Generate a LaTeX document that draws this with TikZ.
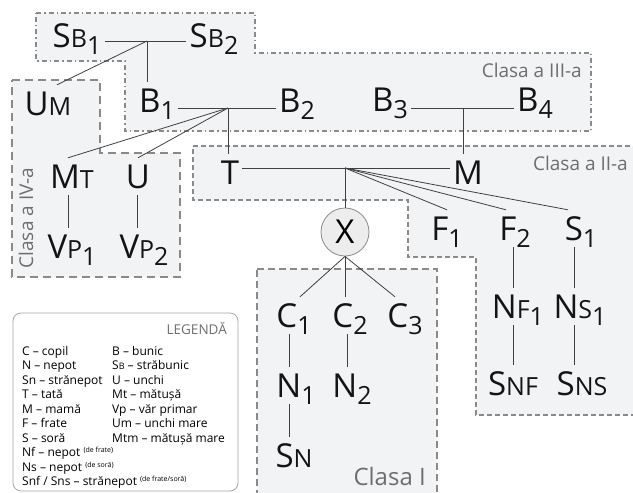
\documentclass[tikz,border=0pt]{standalone}
\usepackage{fontspec}
\setmainfont{Open Sans}

\definecolor{boxfill}{HTML}{F2F3F5}
\definecolor{boxline}{HTML}{8A8A8A}
\definecolor{labelgray}{HTML}{6E6E6E}

\newcommand{\smallcap}[1]{{\fontsize{25}{25}\selectfont #1}}
\newcommand{\nr}[1]{\raisebox{-7pt}{\fontsize{25}{25}\selectfont #1}}
\newcommand{\legnote}[1]{\raisebox{4pt}{\fontsize{7}{8}\selectfont #1}}

\tikzset{
  pers/.style={anchor=base, inner sep=3pt, text height=27pt, text depth=4pt,
    text=black!92, font=\fontsize{33}{36}\selectfont},
  klasse/.style={draw=boxline, fill=boxfill, line width=1.4pt},
  klasslabel/.style={text=labelgray, inner sep=0pt, font=\fontsize{19}{22}\selectfont},
  link/.style={draw=black!75, line width=0.8pt},
  legtext/.style={anchor=base west, inner sep=0pt, font=\fontsize{12}{14}\selectfont},
}

\begin{document}
\begin{tikzpicture}[x=1pt, y=-1pt]
    \useasboundingbox (0,0) rectangle (633,493);

    % the classes
    \draw[klasse, dash pattern=on 5pt off 3pt on 1.5pt off 3pt]
        (36,13) -- (255,13) -- (255,53) -- (591,53) -- (591,131) -- (125,131) -- (125,61) -- (36,61) -- cycle;
    \draw[klasse, dash pattern=on 8pt off 5pt]
        (12,80) -- (100,80) -- (100,153) -- (180,153) -- (180,277) -- (12,277) -- cycle;
    \draw[klasse, dash pattern=on 5pt off 3pt]
        (193,146) -- (640,146) -- (640,415) -- (476,415) -- (476,257) -- (408,257) -- (408,200) -- (193,200) -- cycle;
    \draw[klasse, dash pattern=on 7pt off 4pt]
        (257,269) -- (437,269) -- (437,500) -- (257,500) -- cycle;
    \draw[draw=black!35, line width=0.8pt, rounded corners=8pt, fill=white] (13,313) rectangle (238,491);

    \node[klasslabel, anchor=base east] (cl3) at (582,77) {Clasa a III-a};
    \node[klasslabel, anchor=base east] (cl2) at (628,170) {Clasa a II-a};
    \node[klasslabel, rotate=90, anchor=base] (cl4) at (33,218) {Clasa a IV-a};
    \node[klasslabel, anchor=base east, font=\fontsize{24}{26}\selectfont] (cl1) at (426,485) {Clasa I};

    % persons
    \node[pers] (sb1) at (77,47) {S\smallcap{B}\nr{1}};
    \node[pers] (sb2) at (214,47) {S\smallcap{B}\nr{2}};
    \node[pers] (um) at (48,115) {U\smallcap{M}};
    \node[pers] (b1) at (157,112) {B\nr{1}};
    \node[pers] (b2) at (297,112) {B\nr{2}};
    \node[pers] (b3) at (390,111) {B\nr{3}};
    \node[pers] (b4) at (535,111) {B\nr{4}};
    \node[pers] (mt) at (72,188) {M\smallcap{T}};
    \node[pers] (u) at (138,188) {U};
    \node[pers] (vp1) at (72,258) {V\smallcap{P}\nr{1}};
    \node[pers] (vp2) at (144,258) {V\smallcap{P}\nr{2}};
    \node[pers] (t) at (230,184) {T};
    \node[pers] (m) at (468,184) {M};
    \node[circle, draw=boxline, fill=black!7, line width=0.8pt, minimum size=48pt, inner sep=0pt,
        font=\fontsize{33}{36}\selectfont] (x) at (345,232) {X};
    \node[pers] (f1) at (447,240) {F\nr{1}};
    \node[pers] (f2) at (515,240) {F\nr{2}};
    \node[pers] (s1) at (581,240) {S\nr{1}};
    \node[pers] (nf1) at (518,318) {N\smallcap{F}\nr{1}};
    \node[pers] (ns1) at (580,318) {N\smallcap{S}\nr{1}};
    \node[pers] (snf) at (513,395) {S\smallcap{NF}};
    \node[pers] (sns) at (582,395) {S\smallcap{NS}};
    \node[pers] (c1) at (294,327) {C\nr{1}};
    \node[pers] (c2) at (350,327) {C\nr{2}};
    \node[pers] (c3) at (405,327) {C\nr{3}};
    \node[pers] (n1) at (296,397) {N\nr{1}};
    \node[pers] (n2) at (352,397) {N\nr{2}};
    \node[pers] (sn) at (294,467) {S\smallcap{N}};

    % junctions and columns of the links
    \coordinate (j1) at (147,41);
    \coordinate (j2) at (228,108);
    \coordinate (j3) at (463,108);
    \coordinate (j4) at (345,168);
    \coordinate (kmt) at (68,0);
    \coordinate (ku) at (137,0);
    \coordinate (kc1) at (289,0);
    \coordinate (kc2) at (347,0);
    \coordinate (kf2) at (513,0);
    \coordinate (ks1) at (574,0);

    \draw[link] (sb1.east |- j1) -- (sb2.west |- j1);
    \draw[link] (j1) -- (j1 |- b1.north);
    \draw[link] (j1) -- ([xshift=9pt]um.north);
    \draw[link] (b1.east |- j2) -- (b2.west |- j2);
    \draw[link] (j2) -- (j2 |- t.north);
    \draw[link] (j2) -- ([xshift=-4pt]mt.north);
    \draw[link] (j2) -- (u.north);
    \draw[link] (kmt |- mt.south) -- (kmt |- vp1.north);
    \draw[link] (ku |- u.south) -- (ku |- vp2.north);
    \draw[link] (b3.east |- j3) -- (b4.west |- j3);
    \draw[link] (j3) -- (j3 |- m.north);
    \draw[link] (t.east |- j4) -- (m.west |- j4);
    \draw[link] (j4) -- (x.north);
    \draw[link] (j4) -- (f1.north);
    \draw[link] (j4) -- ([xshift=-9pt]f2.north);
    \draw[link] (j4) -- ([xshift=-13pt]s1.north);
    \draw[link] (kf2 |- f2.south) -- (kf2 |- nf1.north);
    \draw[link] (ks1 |- s1.south) -- (ks1 |- ns1.north);
    \draw[link] (kf2 |- nf1.south) -- (kf2 |- snf.north);
    \draw[link] (ks1 |- ns1.south) -- (ks1 |- sns.north);
    \draw[link] (x.south) -- ([xshift=6pt]c1.north);
    \draw[link] (x.south) -- ([xshift=-5pt]c2.north);
    \draw[link] (x.south) -- ([xshift=-10pt]c3.north);
    \draw[link] (kc1 |- c1.south) -- (kc1 |- n1.north);
    \draw[link] (kc1 |- n1.south) -- (kc1 |- sn.north);
    \draw[link] (kc2 |- c2.south) -- (kc2 |- n2.north);

    % legend
    \node[legtext, anchor=base east, text=labelgray, font=\fontsize{13.5}{15}\selectfont] (legtitle) at (227,334) {LEGENDĂ};
    \foreach \txt [count=\i] in {C – copil, N – nepot, Sn – strănepot, T – tată, M – mamă, F – frate, S – soră,
        Nf – nepot \legnote{(de frate)}, Ns – nepot \legnote{(de soră)}, Snf / Sns – strănepot \legnote{(de frate/soră)}}
        \node[legtext] (ll\i) at (22,{340.5+14.5*\i}) {\txt};
    \foreach \txt [count=\i] in {B – bunic, S{\fontsize{9}{10}\selectfont B} – străbunic, U – unchi, Mt – mătușă,
        Vp – văr primar, Um – unchi mare, Mtm – mătușă mare}
        \node[legtext] (lr\i) at (112,{340.5+14.5*\i}) {\txt};

\end{tikzpicture}
\end{document}
